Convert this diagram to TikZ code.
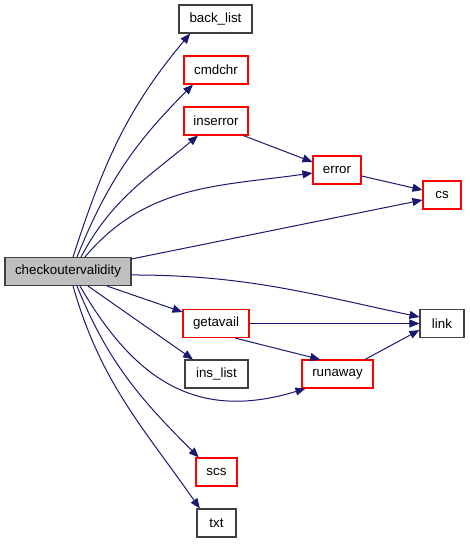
\documentclass[tikz,border=0pt]{standalone}
\usepackage{fontspec}
\setmainfont{Liberation Sans}
\usetikzlibrary{arrows.meta}
\definecolor{edgeblue}{HTML}{191970}
\definecolor{mainfill}{HTML}{BFBFBF}
\tikzset{
  box/.style={draw=black!75, line width=0.8pt, inner sep=0pt, minimum height=21pt, font=\fontsize{10pt}{12pt}\selectfont, fill=white},
  redbox/.style={box, draw=red},
  mainbox/.style={box, fill=mainfill},
  edge/.style={draw=edgeblue, line width=0.75pt, -{Triangle[length=7.5pt,width=6pt]}}
}
\begin{document}
\begin{tikzpicture}[x=0.75pt,y=-0.75pt]
\useasboundingbox (0,0) rectangle (469,544);
\node[mainbox, minimum width=94.5pt] (main) at (68,271.5) {checkoutervalidity};
\node[box, minimum width=54.75pt] (back) at (215.5,19) {back\_list};
\node[redbox, minimum width=48pt] (cmdchr) at (216,70) {cmdchr};
\node[redbox, minimum width=48pt] (inserror) at (216,121) {inserror};
\node[redbox, minimum width=36pt] (error) at (337,170) {error};
\node[redbox, minimum width=28.5pt] (cs) at (442,195) {cs};
\node[redbox, minimum width=49.5pt] (getavail) at (216,323.5) {getavail};
\node[box, minimum width=33pt] (link) at (442,323.5) {link};
\node[box, minimum width=47.25pt] (inslist) at (216.5,374) {ins\_list};
\node[redbox, minimum width=53.25pt] (runaway) at (337.5,374) {runaway};
\node[redbox, minimum width=30.75pt] (scs) at (216.5,472) {scs};
\node[box, minimum width=29.25pt] (txt) at (216.5,523) {txt};

\draw[edge] ([xshift=3.75pt]main.north) to[out=72,in=230] ([xshift=-19pt]back.south);
\draw[edge] ([xshift=6.75pt]main.north) to[out=68,in=225] ([xshift=-17.25pt]cmdchr.south);
\draw[edge] ([xshift=9.75pt]main.north) to[out=62,in=220] ([xshift=-13.5pt]inserror.south);
\draw[edge] ([xshift=12.75pt]main.north) to[out=50,in=188] ([yshift=-2.25pt]error.west);
\draw[edge] ([yshift=-1.5pt]main.north east) -- ([yshift=-3.75pt]cs.west);
\draw[edge] ([yshift=-2.6pt]main.east) to[out=0,in=168] ([yshift=4.9pt]link.west);
\draw[edge] ([xshift=29.25pt]main.south) -- ([yshift=8.6pt]getavail.west);
\draw[edge] ([xshift=15pt]main.south) -- ([xshift=-17.6pt]inslist.north);
\draw[edge] ([xshift=9pt]main.south) to[out=-60,in=197,looseness=1.15] ([xshift=-24pt]runaway.south);
\draw[edge] ([xshift=6.75pt]main.south) to[out=-68,in=135] ([xshift=2.5pt]scs.north west);
\draw[edge] ([xshift=3.75pt]main.south) to[out=-74,in=125] ([xshift=2.5pt]txt.north west);

\draw[edge] ([xshift=-4pt]inserror.south east) -- ([yshift=6pt]error.west);
\draw[edge] ([yshift=-4.5pt]error.east) -- ([yshift=3.75pt]cs.west);
\draw[edge] (getavail.east) -- (link.west);
\draw[edge] ([xshift=14.25pt]getavail.south) -- ([xshift=-13pt]runaway.north);
\draw[edge] ([xshift=20.6pt]runaway.north) -- ([yshift=-4.9pt]link.west);
\end{tikzpicture}
\end{document}
